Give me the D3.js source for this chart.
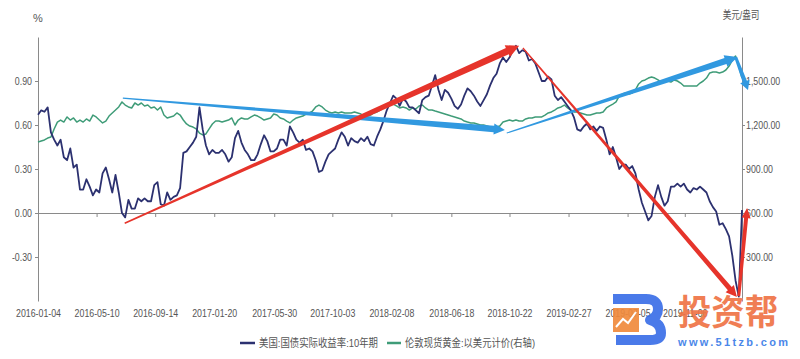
<!DOCTYPE html>
<html><head><meta charset="utf-8">
<script src="https://cdn.jsdelivr.net/npm/d3@7"></script>
<style>html,body{margin:0;padding:0;background:#fff;} svg{display:block;}</style>
</head><body>
<svg id="chart" width="800" height="359"></svg>
<script>
// ---------- data ----------
const startDate = "2016-01-04";   // first observation, one value per week after it
const stepDays = 7;

const realYield = [
 0.67,0.70,0.69,0.72,0.55,0.50,0.46,0.50,0.38,0.36,
 0.44,0.31,0.33,0.16,0.16,0.23,0.18,0.12,0.16,0.14,
 0.27,0.31,0.23,0.14,0.26,0.14,0.00,-0.03,0.09,0.03,
 0.03,0.10,0.08,0.10,0.08,0.08,0.19,0.21,0.06,0.05,
 0.14,0.09,0.11,0.12,0.17,0.41,0.42,0.45,0.48,0.52,
 0.72,0.57,0.46,0.40,0.43,0.41,0.41,0.43,0.40,0.35,
 0.38,0.51,0.56,0.48,0.43,0.40,0.36,0.36,0.40,0.47,
 0.53,0.49,0.42,0.42,0.44,0.50,0.50,0.46,0.59,0.55,
 0.50,0.48,0.50,0.43,0.44,0.42,0.36,0.28,0.29,0.35,
 0.40,0.42,0.44,0.50,0.55,0.52,0.46,0.51,0.49,0.48,
 0.51,0.49,0.52,0.47,0.46,0.52,0.57,0.63,0.70,0.75,
 0.80,0.78,0.73,0.78,0.76,0.72,0.72,0.70,0.68,0.77,
 0.79,0.80,0.87,0.94,0.84,0.77,0.84,0.82,0.78,0.73,
 0.71,0.74,0.80,0.85,0.83,0.80,0.76,0.73,0.77,0.81,
 0.87,0.92,0.95,1.02,1.06,1.03,1.06,1.11,1.14,1.09,
 1.11,1.10,1.04,1.05,1.02,0.96,0.90,0.90,0.93,0.91,
 0.80,0.77,0.79,0.76,0.73,0.70,0.65,0.57,0.56,0.59,
 0.61,0.57,0.59,0.56,0.59,0.58,0.50,0.40,0.45,0.38,
 0.30,0.33,0.33,0.30,0.32,0.27,0.16,0.07,0.01,-0.05,
 -0.02,0.11,0.19,0.11,0.05,0.08,0.18,0.18,0.20,0.18,
 0.20,0.16,0.14,0.17,0.16,0.18,0.16,0.14,0.08,0.04,
 0.01,-0.08,-0.07,-0.11,-0.16,-0.29,-0.46,-0.57,0.02
];

const goldPrice = [
 1084,1091,1098,1111,1118,1173,1220,1234,1220,1255,
 1234,1248,1220,1234,1220,1241,1227,1268,1255,1234,
 1214,1227,1261,1282,1302,1323,1357,1336,1323,1316,
 1350,1336,1350,1330,1336,1316,1323,1302,1323,1268,
 1248,1255,1261,1282,1268,1234,1207,1193,1186,1173,
 1145,1132,1139,1173,1207,1227,1227,1220,1227,1234,
 1248,1200,1234,1248,1241,1241,1255,1268,1261,1248,
 1234,1241,1248,1275,1268,1248,1241,1227,1214,1234,
 1248,1255,1261,1275,1282,1295,1323,1336,1323,1302,
 1289,1282,1289,1282,1289,1282,1282,1282,1289,1282,
 1275,1255,1261,1268,1282,1289,1302,1316,1330,1336,
 1343,1330,1316,1323,1316,1302,1316,1309,1330,1336,
 1316,1302,1302,1295,1289,1282,1275,1268,1261,1255,
 1248,1241,1227,1220,1214,1214,1207,1200,1200,1193,
 1186,1186,1186,1193,1220,1227,1234,1227,1234,1227,
 1227,1241,1248,1248,1255,1255,1255,1268,1282,1289,
 1302,1316,1323,1336,1316,1302,1289,1289,1282,1275,
 1268,1268,1275,1282,1282,1289,1316,1330,1343,1357,
 1398,1411,1418,1411,1418,1439,1480,1500,1507,1520,
 1527,1520,1507,1493,1507,1500,1493,1507,1500,1486,
 1466,1466,1466,1466,1466,1486,1500,1520,1555,1561,
 1561,1555,1561,1575,1602,1643,1670,1602,1520
];

const xTickLabels = ["2016-01-04","2016-05-10","2016-09-14","2017-01-20","2017-05-30","2017-10-03",
  "2018-02-08","2018-06-18","2018-10-22","2019-02-27","2019-07-05","2019-11-06"];
const leftTicks = [-0.3, 0, 0.3, 0.6, 0.9];
const rightTicks = [300, 600, 900, 1200, 1500];
const seriesNames = ["美国:国债实际收益率:10年期", "伦敦现货黄金:以美元计价(右轴)"];
const leftTitle = "%";
const rightTitle = "美元/盎司";

// hand-drawn trend arrows (date, value on left axis)
const redArrows = [
  {from:["2016-07-10",-0.07], to:["2018-11-12",1.14]},
  {from:["2018-11-20",1.125], to:["2020-02-27",-0.573]},
  {from:["2020-03-02",-0.566], to:["2020-03-20",0.034]}
];
const blueArrows = [
  {from:["2016-07-06",0.784], to:["2018-10-12",0.566]},
  {from:["2018-10-16",0.545], to:["2020-02-29",1.064]},
  {from:["2020-02-25",1.057], to:["2020-03-22",0.839]}
];

// ---------- drawing ----------
const FONT = '"Liberation Sans","Noto Sans CJK SC",sans-serif';
const svg = d3.select("#chart");
const parse = d3.utcParse("%Y-%m-%d");
const t0 = parse(startDate);
const dates = realYield.map((_, i) => d3.utcDay.offset(t0, i * stepDays));
const tEnd = dates[dates.length - 1];

const x = d3.scaleUtc().domain([t0, tEnd]).range([38, 742]);
const yL = d3.scaleLinear().domain([-0.6, 1.2]).range([301, 37]);
const yR = d3.scaleLinear().domain([0, 1800]).range([301, 37]);

const axisColor = "#8a8a8a";
const textColor = "#555";

function squeeze(sel, f) {
  sel.each(function () {
    const w = this.getComputedTextLength();
    d3.select(this).attr("textLength", w * f).attr("lengthAdjust", "spacingAndGlyphs");
  });
}
function styleAxis(g) {
  g.selectAll("path.domain").attr("stroke", axisColor);
  g.selectAll(".tick line").attr("stroke", axisColor);
  g.selectAll("text").attr("fill", textColor).style("font-family", FONT).style("font-size", "11px");
}

// left axis
const gL = svg.append("g").attr("transform", "translate(38,0)")
  .call(d3.axisLeft(yL).tickValues(leftTicks).tickSize(3).tickSizeOuter(0).tickPadding(3)
    .tickFormat(d => d.toFixed(2).replace("\u2212", "-")));
styleAxis(gL);
squeeze(gL.selectAll("text"), 0.8);

// right axis
const fmtR = d3.format(",.2f");
const gR = svg.append("g").attr("transform", "translate(742,0)")
  .call(d3.axisRight(yR).tickValues(rightTicks).tickSize(3).tickSizeOuter(0).tickPadding(1)
    .tickFormat(d => fmtR(d)));
styleAxis(gR);
squeeze(gR.selectAll("text"), 0.8);

// x axis at zero line
const gX = svg.append("g").attr("transform", `translate(0,${yL(0)})`)
  .call(d3.axisBottom(x).tickValues(xTickLabels.map(parse)).tickSize(4).tickSizeOuter(0)
    .tickFormat(d3.utcFormat("%Y-%m-%d")));
styleAxis(gX);
gX.selectAll("text").attr("y", 317 - yL(0)).attr("dy", 0);
squeeze(gX.selectAll("text"), 0.8);

// titles
svg.append("text").attr("x", 38).attr("y", 22).attr("text-anchor", "middle")
  .attr("fill", textColor).style("font-family", FONT).style("font-size", "11px").text(leftTitle);
const rt = svg.append("text").attr("x", 741).attr("y", 19).attr("text-anchor", "middle")
  .attr("fill", textColor).style("font-family", FONT).style("font-size", "11px").text(rightTitle);
squeeze(rt, 0.78);

// series
const navy = "#2c3170", green = "#3f9c78";
svg.append("path").datum(goldPrice)
  .attr("fill", "none").attr("stroke", green).attr("stroke-width", 1.5).attr("stroke-linejoin", "round")
  .attr("d", d3.line().x((d, i) => x(dates[i])).y(d => yR(d)));
svg.append("path").datum(realYield)
  .attr("fill", "none").attr("stroke", navy).attr("stroke-width", 1.8).attr("stroke-linejoin", "round")
  .attr("d", d3.line().x((d, i) => x(dates[i])).y(d => yL(d)));

// arrows
function arrowPath(a, w1, w2, hl, hw) {
  const p1 = [x(parse(a.from[0])), yL(a.from[1])];
  const p2 = [x(parse(a.to[0])), yL(a.to[1])];
  const dx = p2[0] - p1[0], dy = p2[1] - p1[1];
  const L = Math.hypot(dx, dy);
  const u = [dx / L, dy / L], n = [-u[1], u[0]];
  const b = [p2[0] - u[0] * hl, p2[1] - u[1] * hl];
  const pt = (p, s) => [p[0] + n[0] * s, p[1] + n[1] * s];
  const pts = [pt(p1, w1 / 2), pt(b, w2 / 2), pt(b, hw / 2), p2, pt(b, -hw / 2), pt(b, -w2 / 2), pt(p1, -w1 / 2)];
  return "M" + pts.map(p => p[0].toFixed(1) + "," + p[1].toFixed(1)).join("L") + "Z";
}
const red = "#e6342b", blue = "#3199e0";
const redW = [[1.5, 7, 13, 13], [1.3, 5, 11, 11], [3, 4, 10, 9]];
const blueW = [[1.3, 6.5, 11, 11], [1.0, 6.5, 13, 12], [3, 4.5, 9, 10]];
blueArrows.forEach((a, i) => svg.append("path").attr("fill", blue).attr("d", arrowPath(a, ...blueW[i])));
redArrows.forEach((a, i) => svg.append("path").attr("fill", red).attr("d", arrowPath(a, ...redW[i])));

// legend
const lg = svg.append("g");
lg.append("line").attr("x1", 240).attr("x2", 255).attr("y1", 343).attr("y2", 343)
  .attr("stroke", navy).attr("stroke-width", 2.5);
lg.append("text").attr("x", 259).attr("y", 347).attr("fill", textColor)
  .style("font-family", FONT).style("font-size", "11px").text(seriesNames[0])
  .attr("textLength", 119).attr("lengthAdjust", "spacingAndGlyphs");
lg.append("line").attr("x1", 387).attr("x2", 401).attr("y1", 343).attr("y2", 343)
  .attr("stroke", green).attr("stroke-width", 2.5);
lg.append("text").attr("x", 405).attr("y", 347).attr("fill", textColor)
  .style("font-family", FONT).style("font-size", "11px").text(seriesNames[1])
  .attr("textLength", 130).attr("lengthAdjust", "spacingAndGlyphs");

// watermark
const wm = svg.append("g").attr("opacity", 0.92);
wm.append("path").attr("fill", "none").attr("stroke", "#3b6fe8").attr("stroke-width", 10)
  .attr("stroke-linejoin", "round")
  .attr("d", "M613,299 H646 Q658,299 658,309 Q658,317 650,320 Q661,323 661,333 Q661,340 650,340 H616");
wm.append("rect").attr("x", 613).attr("y", 308).attr("width", 26).attr("height", 24).attr("fill", "#f08a3c");
wm.append("polyline").attr("points", "616,327 623,319 628,323 636,312").attr("fill", "none")
  .attr("stroke", "#fff").attr("stroke-width", 2);
wm.append("text").attr("x", 678).attr("y", 325).attr("fill", "#ef7446")
  .style("font-family", '"Noto Sans CJK SC",sans-serif').style("font-size", "35px").style("font-weight", "bold")
  .text("投资帮").attr("textLength", 100).attr("lengthAdjust", "spacingAndGlyphs");
wm.append("text").attr("x", 678).attr("y", 346).attr("fill", "#3b7de8")
  .style("font-family", FONT).style("font-size", "11px").style("font-weight", "bold")
  .text("www.51tzb.com").attr("textLength", 110).attr("lengthAdjust", "spacing");
</script>
</body></html>
